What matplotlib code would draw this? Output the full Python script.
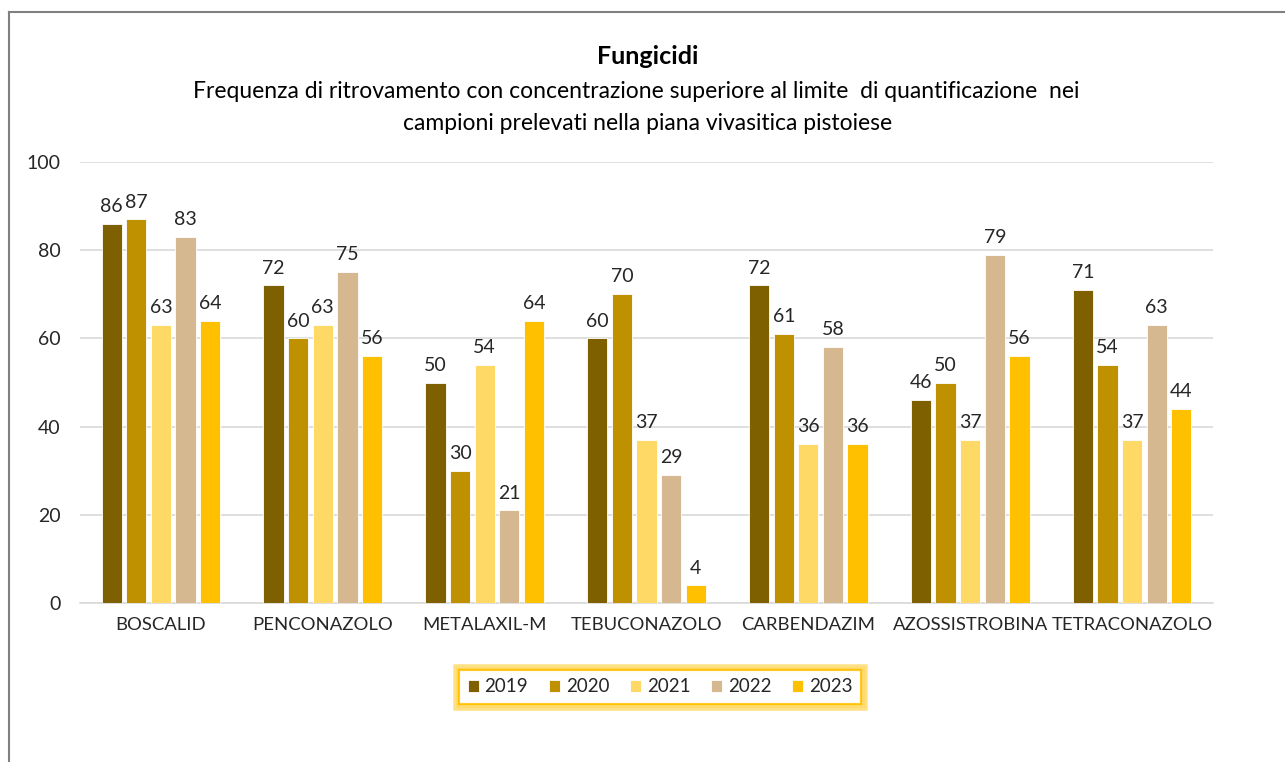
import matplotlib
matplotlib.use("Agg")
import matplotlib.pyplot as plt
import matplotlib.patheffects as pe
from matplotlib.lines import Line2D
import numpy as np

plt.rcParams['font.family'] = ['Lato', 'DejaVu Sans']

categories = ["BOSCALID", "PENCONAZOLO", "METALAXIL-M", "TEBUCONAZOLO",
              "CARBENDAZIM", "AZOSSISTROBINA", "TETRACONAZOLO"]
years = ["2019", "2020", "2021", "2022", "2023"]
values = {
    "2019": [86, 72, 50, 60, 72, 46, 71],
    "2020": [87, 60, 30, 70, 61, 50, 54],
    "2021": [63, 63, 54, 37, 36, 37, 37],
    "2022": [83, 75, 21, 29, 58, 79, 63],
    "2023": [64, 56, 64, 4, 36, 56, 44],
}
colors = ["#7F6000", "#BF9000", "#FFD966", "#D6B890", "#FFC000"]

W, H = 1285, 762
fig = plt.figure(figsize=(W / 100, H / 100), dpi=100)
ax = fig.add_axes([80 / W, 1 - 603 / H, (1213 - 80) / W, (603 - 162) / H])

x = np.arange(len(categories))
pitch = 0.152
bw = 0.125
for i, (yr, c) in enumerate(zip(years, colors)):
    off = (i - 2) * pitch
    ax.bar(x + off, values[yr], bw, color=c, edgecolor="white",
           linewidth=0.6, label=yr, zorder=3)
    for xi, v in zip(x + off, values[yr]):
        ax.text(xi, v + 2.0, str(v), ha="center", va="bottom",
                fontsize=14, color="#262626", zorder=4)

ax.set_xlim(-0.5, len(categories) - 0.5)
ax.set_ylim(0, 100)
ax.set_yticks(range(0, 101, 20))
ax.set_xticks(x)
ax.set_xticklabels(categories)
ax.tick_params(axis="both", length=0, labelsize=14, colors="#262626")
ax.tick_params(axis="x", labelsize=13.3, pad=10)
ax.tick_params(axis="y", pad=14)
ax.yaxis.grid(True, color="#D9D9D9", linewidth=1.2, zorder=0)
for s in ["top", "right", "left"]:
    ax.spines[s].set_visible(False)
ax.spines["bottom"].set_color("#D9D9D9")
ax.spines["bottom"].set_linewidth(1.2)

fig.text(648 / W, 1 - 57 / H, "Fungicidi", ha="center", va="center",
         fontsize=18, fontweight="bold", color="#000000")
fig.text(636 / W, 1 - 91 / H,
         "Frequenza di ritrovamento con concentrazione superiore al limite  di quantificazione  nei",
         ha="center", va="center", fontsize=16.5, color="#000000")
fig.text(648 / W, 1 - 124 / H,
         "campioni prelevati nella piana vivasitica pistoiese",
         ha="center", va="center", fontsize=16.5, color="#000000")

leg = fig.legend(loc="center", bbox_to_anchor=(660 / W, 1 - 687 / H), ncol=5,
                 frameon=True, fontsize=13.5, handlelength=0.6, handleheight=0.6,
                 handletextpad=0.3, columnspacing=1.1, borderpad=0.45,
                 fancybox=False)
fr = leg.get_frame()
fr.set_edgecolor("#FFC000")
fr.set_linewidth(1.5)
fr.set_path_effects([pe.withStroke(linewidth=9, foreground=(1, 0.85, 0.4, 0.25)),
                     pe.withStroke(linewidth=5, foreground=(1, 0.85, 0.4, 0.35)),
                     pe.Normal()])
for t in leg.get_texts():
    t.set_color("#262626")

# outer chart border (partially visible)
fig.add_artist(Line2D([9 / W, 9 / W], [1 - 12 / H, 0], transform=fig.transFigure,
                      color="#808080", linewidth=1.5))
fig.add_artist(Line2D([9 / W, 1], [1 - 12 / H, 1 - 12 / H], transform=fig.transFigure,
                      color="#808080", linewidth=1.5))

fig.savefig("out.png", dpi=100)
